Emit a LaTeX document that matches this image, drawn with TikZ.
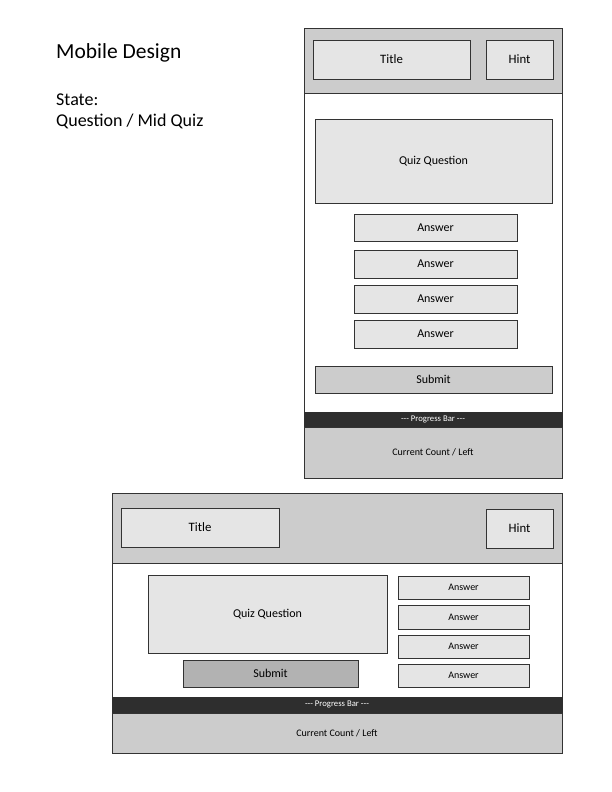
\documentclass[tikz,border=0pt]{standalone}
\usepackage{fontspec}
\setmainfont{Carlito}
\begin{document}
\begin{tikzpicture}[x=1pt,y=-1pt,
  box/.style={draw=black!80,line width=0.9pt,fill=black!10,inner sep=0pt},
  panel/.style={draw=black!80,line width=0.9pt,fill=black!20},
  frame/.style={draw=black!80,line width=0.9pt,fill=white},
  bar/.style={fill=black!82,draw=black!82},
  hlbl/.style={font=\fontsize{12.8}{15}\selectfont},
  lbl/.style={font=\fontsize{12}{14}\selectfont},
  slbl/.style={font=\fontsize{10}{12}\selectfont},
  tlbl/.style={font=\fontsize{8.7}{10}\selectfont,text=white}]
\useasboundingbox (0,0) rectangle (612,792);
\node[anchor=base west,inner sep=0pt,font=\fontsize{21.5}{24}\selectfont] (heading) at (56,59) {Mobile Design};
\node[anchor=base west,inner sep=0pt,font=\fontsize{18}{21}\selectfont] (state) at (56,105) {State:};
\node[anchor=base west,inner sep=0pt,font=\fontsize{18}{21}\selectfont] (mid) at (56,126) {Question / Mid Quiz};
% top phone
\draw[frame] (304,28) rectangle (562,478);
\draw[panel] (304,28) rectangle (562,93);
\node[box,minimum width=157,minimum height=39,hlbl] (t1) at (391.5,59.5) {Title};
\node[box,minimum width=67,minimum height=39,hlbl] (h1) at (519.5,59.5) {Hint};
\node[box,minimum width=237,minimum height=84,lbl] (q1) at (433.5,161) {Quiz Question};
\node[box,minimum width=163,minimum height=27,lbl] (a11) at (435.5,227.5) {Answer};
\node[box,minimum width=163,minimum height=28,lbl] (a12) at (435.5,264) {Answer};
\node[box,minimum width=163,minimum height=28,lbl] (a13) at (435.5,299) {Answer};
\node[box,minimum width=163,minimum height=28,lbl] (a14) at (435.5,334) {Answer};
\node[box,fill=black!20,minimum width=237,minimum height=27,lbl] (s1) at (433.5,379.5) {Submit};
\node[bar,minimum width=258,minimum height=15,inner sep=0pt,tlbl] (p1) at (433,419.5) {-{}-{}- Progress Bar -{}-{}-};
\node[draw=black!80,line width=0.9pt,fill=black!20,minimum width=258,minimum height=51,inner sep=0pt,slbl] (c1) at (433,452.5) {Current Count / Left};
% bottom (landscape)
\draw[frame] (112,493) rectangle (562,753);
\draw[panel] (112,493) rectangle (562,563);
\node[box,minimum width=158,minimum height=39,hlbl] (t2) at (200,527.5) {Title};
\node[box,minimum width=67,minimum height=39,hlbl] (h2) at (519.5,528.5) {Hint};
\node[box,minimum width=239,minimum height=78,lbl] (q2) at (267.5,614) {Quiz Question};
\node[box,fill=black!30,minimum width=175,minimum height=27,lbl] (s2) at (270.5,673.5) {Submit};
\node[box,minimum width=131,minimum height=23,slbl] (a21) at (463.5,587.5) {Answer};
\node[box,minimum width=131,minimum height=24,slbl] (a22) at (463.5,617) {Answer};
\node[box,minimum width=131,minimum height=23,slbl] (a23) at (463.5,646.5) {Answer};
\node[box,minimum width=131,minimum height=23,slbl] (a24) at (463.5,675.5) {Answer};
\node[bar,minimum width=450,minimum height=15,inner sep=0pt,tlbl] (p2) at (337,704.5) {-{}-{}- Progress Bar -{}-{}-};
\node[draw=black!80,line width=0.9pt,fill=black!20,minimum width=450,minimum height=40,inner sep=0pt,slbl] (c2) at (337,733) {Current Count / Left};
\end{tikzpicture}
\end{document}
